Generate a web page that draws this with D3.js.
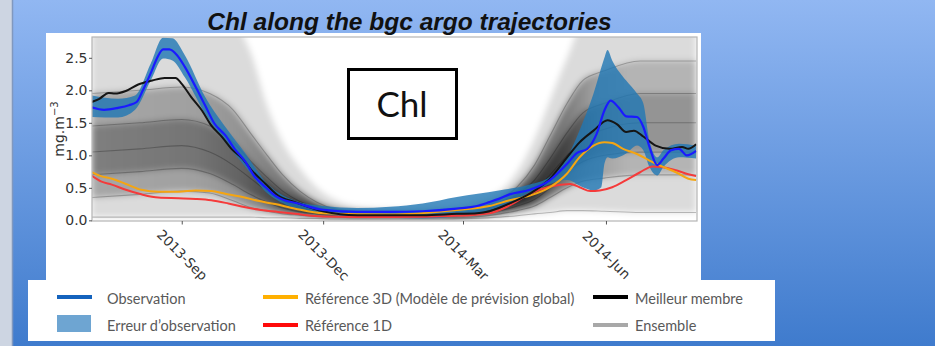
<!DOCTYPE html>
<html><head><meta charset="utf-8">
<script src="https://cdn.jsdelivr.net/npm/d3@7"></script>
<style>html,body{margin:0;padding:0;overflow:hidden;background:#fff}</style>
</head><body>
<svg id="c" width="935" height="346"></svg>
<script>
// ---------------- data ----------------
const title = "Chl along the bgc argo trajectories";
const boxLabel = "Chl";
const yLabel = ["mg.m", "\u22123"];
const yTicks = [0, 0.5, 1.0, 1.5, 2.0, 2.5];
const xTickDates = ["2013-09-01", "2013-12-01", "2014-03-01", "2014-06-01"];
const xTickLabels = ["2013-Sep", "2013-Dec", "2014-Mar", "2014-Jun"];

const observation = [
  ["2013-07-05",1.74],["2013-07-13",1.70],["2013-07-22",1.73],["2013-07-29",1.77],["2013-08-03",1.82],
  ["2013-08-07",2.00],["2013-08-12",2.26],["2013-08-16",2.49],["2013-08-20",2.63],["2013-08-24",2.63],
  ["2013-08-29",2.54],["2013-09-03",2.36],["2013-09-10",2.05],["2013-09-16",1.77],["2013-09-22",1.49],
  ["2013-09-29",1.31],["2013-10-05",1.10],["2013-10-12",0.90],["2013-10-18",0.67],["2013-10-25",0.51],
  ["2013-10-31",0.38],["2013-11-06",0.31],["2013-11-13",0.27],["2013-12-01",0.16],["2013-12-23",0.13],
  ["2014-01-13",0.13],["2014-02-03",0.14],["2014-02-25",0.18],["2014-03-10",0.22],["2014-03-18",0.28],
  ["2014-03-24",0.33],["2014-03-31",0.40],["2014-04-13",0.47],["2014-04-26",0.62],["2014-05-07",0.87],
  ["2014-05-13",1.03],["2014-05-20",1.10],["2014-05-26",1.33],["2014-05-31",1.69],["2014-06-04",1.84],
  ["2014-06-09",1.74],["2014-06-14",1.60],["2014-06-21",1.59],["2014-06-25",1.44],["2014-06-29",1.13],
  ["2014-07-04",0.85],["2014-07-08",0.95],["2014-07-13",1.08],["2014-07-18",1.10],["2014-07-23",1.00],
  ["2014-07-29",1.07]
];

// observation error: [date, low, high]
const observationError = [
  ["2013-07-05",1.59,1.92],["2013-07-22",1.58,1.87],["2013-08-02",1.70,1.92],["2013-08-12",2.15,2.41],
  ["2013-08-20",2.49,2.81],["2013-08-26",2.46,2.80],["2013-09-03",2.20,2.54],["2013-09-16",1.64,1.90],
  ["2013-09-29",1.20,1.44],["2013-10-12",0.82,1.03],["2013-10-25",0.44,0.59],["2013-11-09",0.22,0.34],
  ["2013-12-01",0.10,0.22],["2013-12-23",0.06,0.19],["2014-01-13",0.04,0.21],["2014-02-03",0.03,0.26],
  ["2014-02-25",0.06,0.36],["2014-03-24",0.20,0.46],["2014-04-13",0.40,0.55],["2014-04-26",0.56,0.67],
  ["2014-05-07",0.62,0.97],["2014-05-17",0.51,1.50],["2014-05-24",0.46,1.95],["2014-05-29",0.51,2.35],
  ["2014-05-31",0.87,2.50],["2014-06-02",0.97,2.62],["2014-06-05",0.95,2.46],["2014-06-14",1.03,2.15],
  ["2014-06-21",1.15,1.95],["2014-06-25",1.08,1.80],["2014-06-29",0.82,1.23],["2014-07-04",0.69,0.97],
  ["2014-07-08",0.82,1.08],["2014-07-18",0.97,1.18],["2014-07-29",0.95,1.15]
];

const bestMember = [
  ["2013-07-05",1.82],["2013-07-10",1.87],["2013-07-16",1.96],["2013-07-20",1.95],["2013-07-27",1.99],
  ["2013-08-04",2.09],["2013-08-13",2.15],["2013-08-21",2.19],["2013-08-28",2.19],["2013-09-01",2.10],
  ["2013-09-07",1.90],["2013-09-14",1.69],["2013-09-20",1.46],["2013-09-27",1.28],["2013-10-03",1.10],
  ["2013-10-10",0.95],["2013-10-16",0.77],["2013-10-25",0.56],["2013-11-02",0.38],["2013-11-13",0.28],
  ["2013-12-01",0.14],["2013-12-23",0.08],["2014-01-13",0.08],["2014-02-03",0.08],["2014-02-25",0.10],
  ["2014-03-10",0.11],["2014-03-18",0.14],["2014-03-24",0.19],["2014-03-31",0.26],["2014-04-13",0.41],
  ["2014-04-26",0.64],["2014-05-07",0.97],["2014-05-15",1.20],["2014-05-24",1.38],["2014-06-02",1.54],
  ["2014-06-08",1.48],["2014-06-14",1.36],["2014-06-19",1.38],["2014-06-25",1.29],["2014-07-03",1.15],
  ["2014-07-12",1.10],["2014-07-20",1.13],["2014-07-24",1.10],["2014-07-29",1.17]
];

const reference3D = [
  ["2013-07-05",0.74],["2013-07-11",0.68],["2013-07-18",0.64],["2013-07-27",0.56],["2013-08-06",0.47],
  ["2013-08-17",0.44],["2013-08-30",0.44],["2013-09-10",0.46],["2013-09-20",0.45],["2013-09-29",0.41],
  ["2013-10-10",0.36],["2013-10-20",0.30],["2013-10-31",0.25],["2013-11-13",0.18],["2013-12-01",0.11],
  ["2014-01-13",0.09],["2014-02-25",0.16],["2014-03-18",0.22],["2014-03-31",0.31],["2014-04-13",0.38],
  ["2014-04-26",0.51],["2014-05-07",0.72],["2014-05-15",0.97],["2014-05-24",1.15],["2014-05-31",1.20],
  ["2014-06-05",1.19],["2014-06-12",1.10],["2014-06-21",1.02],["2014-06-29",0.92],["2014-07-07",0.83],
  ["2014-07-16",0.74],["2014-07-24",0.64],["2014-07-29",0.62]
];

const reference1D = [
  ["2013-07-05",0.69],["2013-07-11",0.60],["2013-07-18",0.55],["2013-07-27",0.47],["2013-08-06",0.40],
  ["2013-08-17",0.35],["2013-08-30",0.34],["2013-09-10",0.33],["2013-09-20",0.31],["2013-10-01",0.26],
  ["2013-10-12",0.20],["2013-10-22",0.16],["2013-11-02",0.13],["2013-11-13",0.10],["2013-12-01",0.06],
  ["2014-01-13",0.05],["2014-02-25",0.07],["2014-03-18",0.11],["2014-03-31",0.23],["2014-04-13",0.41],
  ["2014-04-26",0.52],["2014-05-09",0.56],["2014-05-15",0.51],["2014-05-22",0.45],["2014-05-28",0.46],
  ["2014-06-05",0.51],["2014-06-14",0.62],["2014-06-23",0.74],["2014-07-01",0.83],["2014-07-07",0.82],
  ["2014-07-16",0.77],["2014-07-24",0.71],["2014-07-29",0.68]
];

// ensemble spread, read as envelope / percentile curves
const ensembleDates = ["2013-07-05","2013-08-05","2013-09-01","2013-09-19","2013-10-04","2013-10-15",
  "2013-10-26","2013-11-05","2013-11-16","2013-11-27","2013-12-08","2013-12-25","2014-01-19","2014-02-13",
  "2014-03-06","2014-03-25","2014-04-05","2014-04-16","2014-04-26","2014-05-07","2014-05-17","2014-05-31",
  "2014-06-23","2014-07-29"];
const ensMin = [0.05,0.05,0.05,0.05,0.05,0.05,0.04,0.04,0.03,0.03,0.02,0.02,0.02,0.02,0.03,0.05,0.07,0.10,0.12,0.15,0.15,0.14,0.12,0.12];
const ensP10 = [0.35,0.40,0.45,0.42,0.30,0.20,0.14,0.10,0.08,0.06,0.05,0.04,0.04,0.04,0.05,0.10,0.15,0.22,0.35,0.50,0.60,0.65,0.70,0.70];
const ensP25 = [0.70,0.75,0.80,0.72,0.55,0.40,0.28,0.19,0.13,0.10,0.07,0.06,0.05,0.06,0.08,0.15,0.22,0.32,0.50,0.75,0.90,1.00,1.05,1.05];
const ensP50 = [1.05,1.10,1.15,1.05,0.85,0.65,0.45,0.30,0.20,0.14,0.10,0.08,0.07,0.08,0.10,0.20,0.30,0.45,0.70,1.00,1.25,1.40,1.50,1.50];
const ensP75 = [1.45,1.50,1.55,1.45,1.20,0.92,0.66,0.45,0.29,0.19,0.13,0.10,0.09,0.10,0.13,0.26,0.40,0.62,0.95,1.35,1.65,1.80,1.95,1.95];
const ensP90 = [1.95,2.00,2.05,1.95,1.70,1.35,1.00,0.70,0.45,0.28,0.18,0.13,0.11,0.13,0.17,0.32,0.52,0.85,1.30,1.80,2.15,2.30,2.45,2.45];
const ensMax = [3.00,3.00,3.00,3.00,3.00,2.60,1.75,1.20,0.80,0.50,0.32,0.20,0.17,0.20,0.28,0.45,0.75,1.25,1.85,2.50,3.00,3.00,3.00,3.00];

// darkness of the ensemble core through the year (dense where members converge)
const coreDensityDates = ["2013-07-05","2013-09-10","2013-10-10","2013-11-05","2013-11-25","2014-02-25","2014-04-10","2014-05-05","2014-05-25","2014-06-15","2014-07-29"];
const coreDensity = [0.24,0.27,0.33,0.45,0.60,0.60,0.55,0.45,0.27,0.18,0.18];

const legendItems = [
  {label:"Observation", kind:"line", color:"#1463bd", col:0, row:0},
  {label:"Erreur d\u2019observation", kind:"rect", color:"#6ea5d2", col:0, row:1},
  {label:"R\u00e9f\u00e9rence 3D (Mod\u00e8le de pr\u00e9vision global)", kind:"line", color:"#ffb000", col:1, row:0},
  {label:"R\u00e9f\u00e9rence 1D", kind:"line", color:"#ff0a0a", col:1, row:1},
  {label:"Meilleur membre", kind:"line", color:"#000000", col:2, row:0},
  {label:"Ensemble", kind:"line", color:"#a8a8a8", col:2, row:1}
];

// ---------------- drawing ----------------
const svg = d3.select("#c");
const parse = d3.timeParse("%Y-%m-%d");
const defs = svg.append("defs");

const bg = defs.append("linearGradient").attr("id","bg").attr("x1",0).attr("y1",0).attr("x2",0).attr("y2",1);
bg.append("stop").attr("offset","0").attr("stop-color","#91b7f2");
bg.append("stop").attr("offset","1").attr("stop-color","#3f7bcd");
svg.append("rect").attr("width",935).attr("height",346).attr("fill","url(#bg)");
svg.append("rect").attr("x",0).attr("y",0).attr("width",12).attr("height",346).attr("fill","#cdd5e2");
svg.append("line").attr("x1",12.5).attr("x2",12.5).attr("y1",0).attr("y2",346).attr("stroke","#8098bf").attr("stroke-width",1.5);

// white panels
svg.append("rect").attr("x",46).attr("y",33).attr("width",655).attr("height",250).attr("fill","#fff");
svg.append("rect").attr("x",28).attr("y",280).attr("width",747).attr("height",61).attr("fill","#fff");

// title
svg.append("text").attr("x",409.5).attr("y",30).attr("text-anchor","middle")
  .style("font-family","'Liberation Sans', Arial, sans-serif").style("font-weight","bold")
  .style("font-style","italic").style("font-size","24.5px").attr("fill","#111").text(title);

const L = 92, R = 697, T = 37, B = 221;
const x = d3.scaleTime().domain([new Date(2013,6,5,6), new Date(2014,6,29,14)]).range([L,R]);
const y = d3.scaleLinear().domain([-0.01, 2.82]).range([B,T]);

defs.append("clipPath").attr("id","clip").append("rect").attr("x",L).attr("y",T).attr("width",R-L).attr("height",B-T);
const blur = defs.append("filter").attr("id","soft").attr("x","-10%").attr("y","-10%").attr("width","120%").attr("height","120%");
blur.append("feGaussianBlur").attr("stdDeviation",3);
const core = defs.append("linearGradient").attr("id","core").attr("gradientUnits","userSpaceOnUse")
  .attr("x1",L).attr("x2",R).attr("y1",0).attr("y2",0);
coreDensityDates.forEach((d,i)=>core.append("stop").attr("offset",((x(parse(d))-L)/(R-L)).toFixed(4))
  .attr("stop-color","#000").attr("stop-opacity",coreDensity[i]));

const plot = svg.append("g").attr("clip-path","url(#clip)");

// ensemble
const ens = ensembleDates.map((d,i)=>({d:parse(d), mn:ensMin[i], p10:ensP10[i], p25:ensP25[i], p50:ensP50[i], p75:ensP75[i], p90:ensP90[i], mx:ensMax[i]}));
const ensBands = plot.append("g").attr("filter","url(#soft)");
const band = (a,b,fill,op)=>ensBands.append("path").datum(ens).attr("fill",fill).attr("fill-opacity",op)
  .attr("d", d3.area().curve(d3.curveMonotoneX).x(e=>x(e.d)).y0(e=>y(e[a])).y1(e=>y(e[b])));
band("mn","mx","#000",0.14);
band("p10","p90","url(#core)",1);
band("p25","p75","url(#core)",1);
["mn","p10","p25","p50","p75","p90"].forEach(k=>{
  plot.append("path").datum(ens).attr("fill","none").attr("stroke","#000").attr("stroke-opacity",0.24).attr("stroke-width",1.1)
    .attr("d", d3.line().curve(d3.curveMonotoneX).x(e=>x(e.d)).y(e=>y(e[k])));
});

// observation error band
plot.append("path").datum(observationError).attr("fill","#1f77b4").attr("fill-opacity",0.8)
  .attr("d", d3.area().curve(d3.curveMonotoneX).x(d=>x(parse(d[0]))).y0(d=>y(d[1])).y1(d=>y(d[2])));

const line = d3.line().curve(d3.curveMonotoneX).x(d=>x(parse(d[0]))).y(d=>y(d[1]));
plot.append("path").datum(reference1D).attr("fill","none").attr("stroke","#f53a3a").attr("stroke-width",2).attr("d",line);
plot.append("path").datum(reference3D).attr("fill","none").attr("stroke","#f5a511").attr("stroke-width",2).attr("d",line);
plot.append("path").datum(bestMember).attr("fill","none").attr("stroke","#151515").attr("stroke-width",2).attr("d",line);
plot.append("path").datum(observation).attr("fill","none").attr("stroke","#1a1aff").attr("stroke-width",2.2).attr("d",line);

// frame
svg.append("rect").attr("x",L).attr("y",T).attr("width",R-L).attr("height",B-T).attr("fill","none").attr("stroke","#b4b4b4").attr("stroke-width",1.2);

// axes
const yAxis = svg.append("g").attr("transform",`translate(${L},0)`)
  .call(d3.axisLeft(y).tickValues(yTicks).tickFormat(d3.format(".1f")).tickSize(3).tickPadding(1.5));
yAxis.select(".domain").remove();
yAxis.selectAll("line").attr("stroke","#555");
yAxis.selectAll("text").style("font-family","'DejaVu Sans', sans-serif").style("font-size","14px").attr("fill","#333");

const xAxis = svg.append("g").attr("transform",`translate(0,${B})`)
  .call(d3.axisBottom(x).tickValues(xTickDates.map(parse)).tickFormat((d,i)=>xTickLabels[i]).tickSize(3.5));
xAxis.select(".domain").remove();
xAxis.selectAll("line").attr("stroke","#555");
xAxis.selectAll("text").attr("y",0).attr("dy","0.35em").attr("transform","translate(0,34) rotate(45)")
  .attr("text-anchor","middle").style("font-family","'DejaVu Sans', sans-serif").style("font-size","13.5px").attr("fill","#333");

// y label
const yl = svg.append("text").attr("transform","translate(64,129) rotate(-90)").attr("text-anchor","middle")
  .style("font-family","'DejaVu Sans', sans-serif").style("font-size","14px").attr("fill","#333");
yl.append("tspan").text(yLabel[0]);
yl.append("tspan").attr("dy",-6).style("font-size","10px").text(yLabel[1]);

// Chl box
svg.append("rect").attr("x",348.5).attr("y",69.5).attr("width",108).attr("height",69).attr("fill","#fff").attr("stroke","#000").attr("stroke-width",3);
svg.append("text").attr("x",402).attr("y",117).attr("text-anchor","middle").style("font-family","Lato, 'Open Sans', sans-serif")
  .style("font-size","35px").attr("fill","#111").text(boxLabel);

// legend
const colX = [57, 263, 593], rowY = [297, 325], textY = [304, 331];
legendItems.forEach(it=>{
  const x0 = colX[it.col];
  if (it.kind === "line") {
    svg.append("line").attr("x1",x0).attr("x2",x0+35).attr("y1",rowY[it.row]).attr("y2",rowY[it.row])
      .attr("stroke",it.color).attr("stroke-width",4);
  } else {
    svg.append("rect").attr("x",x0).attr("y",315).attr("width",34).attr("height",17).attr("fill",it.color);
  }
  svg.append("text").attr("x", x0 + (it.col===0 ? 50 : 42)).attr("y",textY[it.row])
    .style("font-family","Lato, 'Open Sans', sans-serif").style("font-size","14.5px").attr("fill","#595959").text(it.label);
});
</script>
</body></html>
